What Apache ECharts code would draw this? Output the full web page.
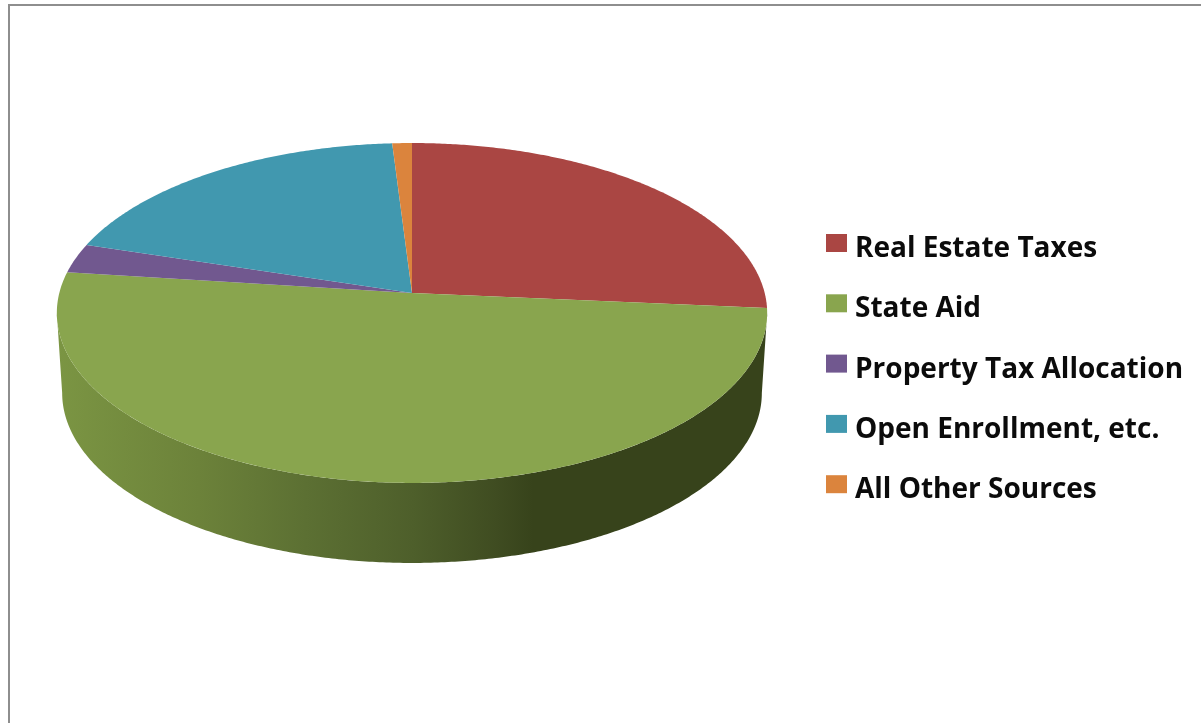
<!DOCTYPE html>
<html>
<head>
<meta charset="utf-8">
<title>Revenue sources</title>
<script src="https://cdn.jsdelivr.net/npm/echarts@6/dist/echarts.min.js"></script>
<style>
  html, body { margin: 0; padding: 0; background: #fff; overflow: hidden; }
  #chart { width: 1201px; height: 723px; }
</style>
</head>
<body>
<div id="chart"></div>
<script>
// Share of revenue by source, in percent
const categories = ['Real Estate Taxes', 'State Aid', 'Property Tax Allocation', 'Open Enrollment, etc.', 'All Other Sources'];
const shares = [26.4, 50.6, 2.8, 19.2, 1.0];
const sliceColors = ['#AA4643', '#89A54E', '#71588F', '#4198AF', '#DB843D'];

// Tilted disc: a circle seen in perspective, with its rim dropped below it
const disc = { cx: 412, cy: 293, radiusX: 352.7, radiusY: 167.6, skew: 0.1176, depth: 80, rimScale: 0.985 };
const total = shares.reduce((a, b) => a + b, 0);

// Map an angle (clockwise from 12 o'clock, radians) onto the disc's top or lower face
function project(theta, lower) {
  const u = Math.sin(theta), v = -Math.cos(theta);
  const w = 1 - disc.skew * v;
  const scale = lower ? disc.rimScale : 1;
  return [
    disc.cx + scale * disc.radiusX * u / w,
    disc.cy + disc.radiusY * v / w + (lower ? disc.depth : 0)
  ];
}

function arc(from, to, lower) {
  const steps = Math.max(2, Math.ceil(Math.abs(to - from) / (Math.PI / 360)));
  const pts = [];
  for (let i = 0; i <= steps; i++) pts.push(project(from + (to - from) * i / steps, lower));
  return pts;
}

function sliceAngles(index) {
  const before = shares.slice(0, index).reduce((a, b) => a + b, 0);
  return [before / total * 2 * Math.PI, (before + shares[index]) / total * 2 * Math.PI];
}

// The rim is visible only between the disc's left and right extremes
function rimShape() {
  const right = Math.acos(-disc.skew);
  const left = 2 * Math.PI - right;
  return {
    type: 'polygon',
    z2: 1,
    shape: { points: arc(right, left, false).concat(arc(left, right, true)) },
    style: {
      fill: new echarts.graphic.LinearGradient(57, 0, 767, 0, [
        { offset: 0, color: '#7B9543' },
        { offset: 0.2, color: '#6C823A' },
        { offset: 0.35, color: '#5C7033' },
        { offset: 0.5, color: '#4E5F2B' },
        { offset: 0.62, color: '#3F4C21' },
        { offset: 0.67, color: '#37431B' },
        { offset: 1, color: '#37431B' }
      ], true)
    }
  };
}

function renderSlice(params, api) {
  const index = params.seriesIndex;
  const [start, end] = sliceAngles(index);
  const top = {
    type: 'polygon',
    z2: 2,
    shape: { points: [[disc.cx, disc.cy]].concat(arc(start, end, false)) },
    style: { fill: sliceColors[index] }
  };
  return { type: 'group', children: index === 1 ? [rimShape(), top] : [top] };
}

const chart = echarts.init(document.getElementById('chart'), null, { renderer: 'canvas' });
chart.setOption({
  animation: false,
  backgroundColor: '#fff',
  color: sliceColors,
  legend: {
    orient: 'vertical',
    left: 826,
    top: 223,
    padding: 0,
    icon: 'rect',
    itemWidth: 21,
    itemHeight: 18,
    itemGap: 20.3,
    selectedMode: false,
    data: categories,
    formatter: name => '{label|' + name + '}',
    textStyle: {
      rich: {
        label: {
          fontFamily: 'Open Sans',
          fontWeight: 'bold',
          fontSize: 28,
          color: '#0b0b0b',
          lineHeight: 30,
          padding: [12, 0, 0, 3]
        }
      }
    }
  },
  graphic: [{
    type: 'rect',
    silent: true,
    shape: { x: 9, y: 5, width: 1400, height: 900 },
    style: { fill: 'none', stroke: '#8E8E8E', lineWidth: 2 }
  }],
  // Rim and State Aid come after the back slices so they paint on top
  series: categories.map((name, i) => ({
    type: 'custom',
    name,
    coordinateSystem: 'none',
    renderItem: renderSlice,
    itemStyle: { color: sliceColors[i] },
    data: [shares[i]],
    silent: true
  }))
});
</script>
</body>
</html>
